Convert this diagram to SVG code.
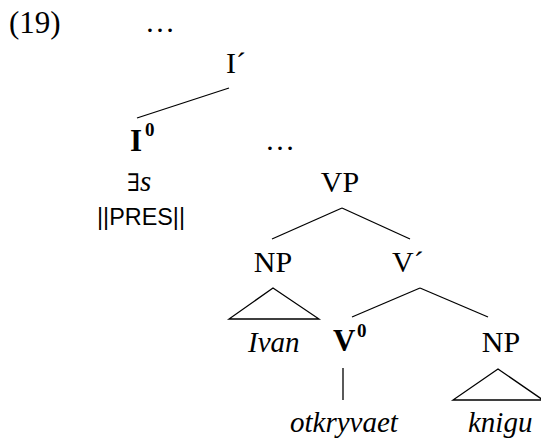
<svg xmlns="http://www.w3.org/2000/svg" width="541" height="440" viewBox="0 0 541 440">
  <style>
    .lbl { font-family: "Liberation Serif", "Times New Roman", serif; font-size: 30px; fill: #000; }
    .it { font-style: italic; font-size: 29px; }
    .bd { font-weight: bold; font-size: 31px; }
    .sup { font-family: "Liberation Serif", "Times New Roman", serif; font-size: 19px; font-weight: bold; fill: #000; }
    .sans { font-family: "Liberation Sans", Arial, sans-serif; font-size: 23px; fill: #000; }
    .edge { stroke: #000; stroke-width: 1.3; fill: none; }
  </style>
  <rect width="541" height="440" fill="#fff"/>

  <text class="lbl" x="9" y="33" style="font-size:31px">(19)</text>
  <text class="lbl" x="160" y="32" text-anchor="middle">…</text>

  <g id="node-Ibar">
    <text class="lbl" x="226" y="73">I´</text>
  </g>

  <g id="node-I0">
    <text class="lbl bd" x="130" y="151">I</text>
    <text class="sup" x="145" y="136">0</text>
    <text class="lbl" x="127" y="191"><tspan font-family="DejaVu Serif, serif" font-size="24">∃</tspan><tspan class="it">s</tspan></text>
    <text class="sans" x="97" y="225" textLength="88" lengthAdjust="spacingAndGlyphs">||PRES||</text>
  </g>

  <text class="lbl" x="280" y="150" text-anchor="middle">…</text>

  <g id="node-VP">
    <text class="lbl" x="340" y="192" text-anchor="middle">VP</text>
  </g>

  <g id="node-NP-subj">
    <text class="lbl" x="273" y="272" text-anchor="middle">NP</text>
    <text class="lbl it" x="248" y="352">Ivan</text>
  </g>

  <g id="node-Vbar">
    <text class="lbl" x="392" y="272">V´</text>
  </g>

  <g id="node-V0">
    <text class="lbl bd" x="333" y="351">V</text>
    <text class="sup" x="357" y="337">0</text>
    <text class="lbl it" x="290" y="432">otkryvaet</text>
  </g>

  <g id="node-NP-obj">
    <text class="lbl" x="501" y="352" text-anchor="middle">NP</text>
    <text class="lbl it" x="468" y="432">knigu</text>
  </g>

  <g id="connectors">
    <line class="edge" x1="229" y1="88" x2="137" y2="118"/>
    <line class="edge" x1="342" y1="208" x2="272" y2="239"/>
    <line class="edge" x1="342" y1="208" x2="410" y2="239"/>
    <polygon class="edge" points="273,288 229,319 319,319"/>
    <line class="edge" x1="420" y1="288" x2="352" y2="317"/>
    <line class="edge" x1="420" y1="288" x2="488" y2="317"/>
    <line class="edge" x1="343" y1="368" x2="343" y2="400"/>
    <polygon class="edge" points="498,369 453,400 543,400"/>
  </g>
</svg>
